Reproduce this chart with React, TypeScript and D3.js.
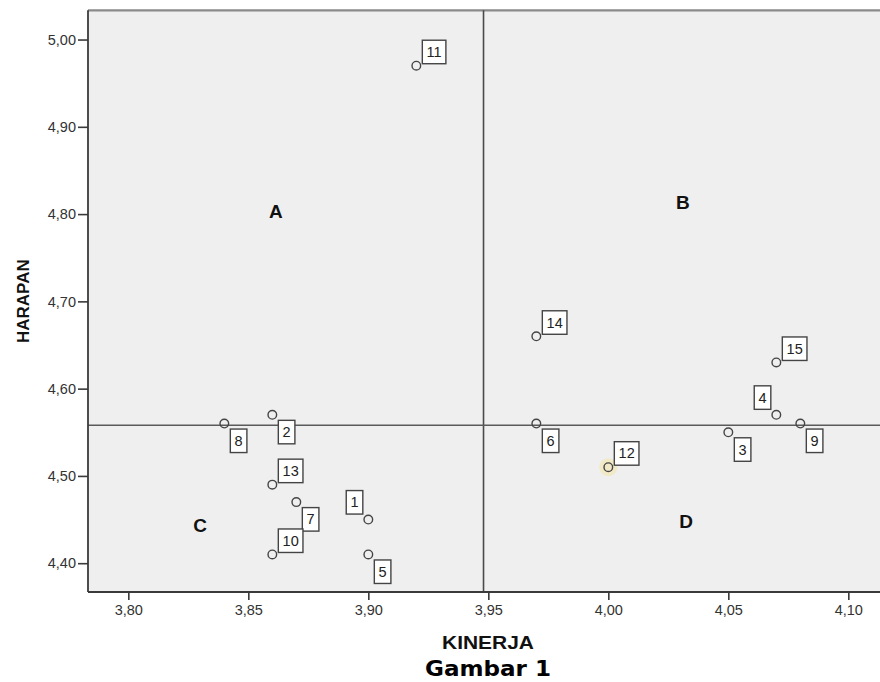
import React, { useEffect, useRef } from "react";
import * as d3 from "d3";

// respondent numbers with their KINERJA / HARAPAN means
const ids = [1, 2, 3, 4, 5, 6, 7, 8, 9, 10, 11, 12, 13, 14, 15];
const kinerja = [3.9, 3.86, 4.05, 4.07, 3.9, 3.97, 3.87, 3.84, 4.08, 3.86, 3.92, 4.0, 3.86, 3.97, 4.07];
const harapan = [4.45, 4.57, 4.55, 4.57, 4.41, 4.56, 4.47, 4.56, 4.56, 4.41, 4.97, 4.51, 4.49, 4.66, 4.63];
// where each point's label box sits
const labelSide = ["nw", "se", "se", "nw", "se", "se", "se", "se", "se", "ne", "ne", "ne", "ne", "ne", "ne"];

const quadrantNames = ["A", "B", "C", "D"];
const quadrantX = [3.8615, 4.0311, 3.8299, 4.0324];
const quadrantY = [4.8034, 4.8137, 4.4438, 4.4484];

const xTicks = [3.8, 3.85, 3.9, 3.95, 4.0, 4.05, 4.1];
const yTicks = [4.4, 4.5, 4.6, 4.7, 4.8, 4.9, 5.0];
const xDomain = [3.7832, 4.1132];
const yDomain = [4.367, 5.0335];

const W = 880;
const H = 682;

const App = () => {
  const svgRef = useRef<SVGSVGElement>(null);

  useEffect(() => {
    document.body.style.margin = "0";
    const svg = d3.select(svgRef.current);
    svg.selectAll("*").remove();

    const left = 88;
    const top = 10.3;
    const bottom = 592;
    const right = 884; // frame runs off the right edge

    const x = d3.scaleLinear().domain(xDomain).range([left, left + (xDomain[1] - xDomain[0]) * 2400]);
    const y = d3.scaleLinear().domain(yDomain).range([bottom, top]);

    const fmt = d3.formatLocale({ decimal: ",", thousands: ".", grouping: [3], currency: ["", ""] }).format(".2f");
    const font = "Arial, 'Liberation Sans', sans-serif";

    svg.attr("width", W).attr("height", H);

    // plot background
    svg.append("rect")
      .attr("x", left).attr("y", top)
      .attr("width", right - left).attr("height", bottom - top)
      .attr("fill", "#efefef");

    // top frame
    svg.append("line")
      .attr("x1", left).attr("x2", right).attr("y1", top).attr("y2", top)
      .attr("stroke", "#8a8a8a").attr("stroke-width", 2.2);

    // reference lines at the means
    const mx = d3.mean(kinerja) as number;
    const my = d3.mean(harapan) as number;
    svg.append("line")
      .attr("x1", x(mx)).attr("x2", x(mx)).attr("y1", top).attr("y2", bottom)
      .attr("stroke", "#4a4a4a").attr("stroke-width", 1.6);
    svg.append("line")
      .attr("x1", left).attr("x2", right).attr("y1", y(my)).attr("y2", y(my))
      .attr("stroke", "#5a5a5a").attr("stroke-width", 1.6);

    // y axis
    const yAxis = svg.append("g").attr("transform", `translate(${left},0)`)
      .call(d3.axisLeft(y).tickValues(yTicks).tickFormat((d) => fmt(d as number)).tickSize(10).tickPadding(2));
    yAxis.select(".domain").attr("stroke", "#3a3a3a").attr("stroke-width", 1.8)
      .attr("d", `M0,${top}V${bottom}`);
    yAxis.selectAll(".tick line").attr("stroke", "#3a3a3a").attr("stroke-width", 1.6);
    yAxis.selectAll(".tick text").attr("font-family", font).attr("font-size", 14.5).attr("fill", "#333");

    // x axis
    const xAxis = svg.append("g").attr("transform", `translate(0,${bottom})`)
      .call(d3.axisBottom(x).tickValues(xTicks).tickFormat((d) => fmt(d as number)).tickSize(8).tickPadding(5));
    xAxis.select(".domain").attr("stroke", "#3a3a3a").attr("stroke-width", 1.8)
      .attr("d", `M${left},0H${right}`);
    xAxis.selectAll(".tick line").attr("stroke", "#3a3a3a").attr("stroke-width", 1.6);
    xAxis.selectAll(".tick text").attr("font-family", font).attr("font-size", 14.5).attr("fill", "#333");

    // axis titles
    svg.append("text")
      .attr("transform", `translate(29,${(top + bottom) / 2}) rotate(-90)`)
      .attr("text-anchor", "middle")
      .attr("font-family", font).attr("font-weight", "bold").attr("font-size", 17)
      .attr("fill", "#111")
      .text("HARAPAN");
    svg.append("text")
      .attr("x", 488).attr("y", 649)
      .attr("text-anchor", "middle")
      .attr("font-family", font).attr("font-weight", "bold").attr("font-size", 17.5)
      .attr("textLength", 92).attr("lengthAdjust", "spacingAndGlyphs")
      .attr("fill", "#111")
      .text("KINERJA");
    svg.append("text")
      .attr("x", 488).attr("y", 676)
      .attr("text-anchor", "middle")
      .attr("font-family", "'Century Gothic', 'DejaVu Sans', sans-serif").attr("font-weight", "bold").attr("font-size", 21)
      .attr("textLength", 126).attr("lengthAdjust", "spacingAndGlyphs")
      .attr("fill", "#000")
      .text("Gambar 1");

    // quadrant letters
    quadrantNames.forEach((q, i) => {
      svg.append("text")
        .attr("x", x(quadrantX[i])).attr("y", y(quadrantY[i]) + 7)
        .attr("text-anchor", "middle")
        .attr("font-family", font).attr("font-weight", "bold").attr("font-size", 19)
        .attr("fill", "#111")
        .text(q);
    });

    // selection halo on case 12
    const sel = ids.indexOf(12);
    svg.append("circle")
      .attr("cx", x(kinerja[sel])).attr("cy", y(harapan[sel])).attr("r", 9)
      .attr("fill", "#f3e7bd").attr("opacity", 0.8);

    // points
    svg.append("g").selectAll("circle").data(ids).join("circle")
      .attr("cx", (_, i) => x(kinerja[i]))
      .attr("cy", (_, i) => y(harapan[i]))
      .attr("r", 4.3)
      .attr("fill", "none")
      .attr("stroke", "#444")
      .attr("stroke-width", 1.4);

    // label boxes
    const boxH = 23.5;
    ids.forEach((id, i) => {
      const px = x(kinerja[i]);
      const py = y(harapan[i]);
      const g = svg.append("g");
      const rect = g.append("rect").attr("fill", "#fff").attr("stroke", "#444").attr("stroke-width", 1.4);
      const t = g.append("text")
        .attr("font-family", font).attr("font-size", 14.5).attr("fill", "#222")
        .attr("text-anchor", "middle")
        .text(String(id));
      const tw = (t.node() as SVGTextElement).getComputedTextLength();
      const bw = tw + 8.5;
      let bx = px + 6;
      let by = py - 2 - boxH;
      if (labelSide[i] === "se") {
        by = py + 5.5;
      } else if (labelSide[i] === "nw") {
        bx = px - 5.5 - bw;
        by = py - 5.5 - boxH;
      }
      rect.attr("x", bx).attr("y", by).attr("width", bw).attr("height", boxH);
      t.attr("x", bx + bw / 2).attr("y", by + boxH / 2 + 5);
    });
  }, []);

  return <svg ref={svgRef} style={{ display: "block" }} />;
};

export default App;
